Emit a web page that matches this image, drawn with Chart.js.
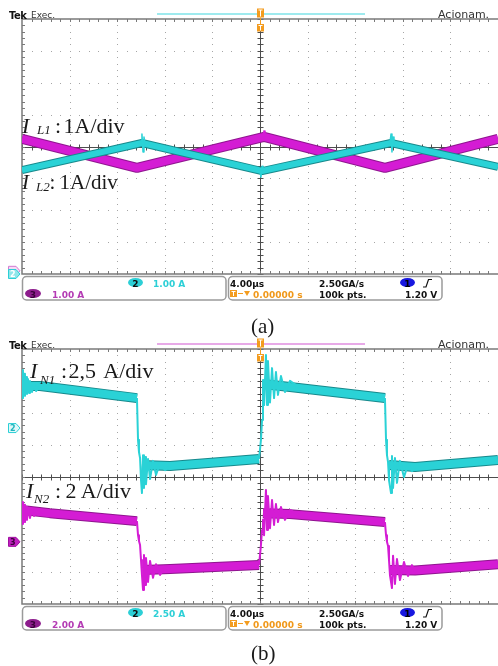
<!DOCTYPE html>
<html>
<head>
<meta charset="utf-8">
<title>Tek captures</title>
<script src="https://cdn.jsdelivr.net/npm/chart.js@4.4.1/dist/chart.umd.min.js"></script>
<style>
  html, body { margin: 0; padding: 0; background: #fff; }
  body { position: relative; width: 498px; height: 666px; overflow: hidden; }
  canvas { position: absolute; left: 0; }
  #scopeA { top: 0; }
  #scopeB { top: 330px; }
  .t { position: absolute; white-space: nowrap; line-height: 1; }
  .hd { font: bold 10px "DejaVu Sans"; letter-spacing: -0.5px; color: #111; }
  .hs { font: 9px "DejaVu Sans"; color: #333; }
  .st { font: bold 9px "DejaVu Sans"; color: #111; }
  .mk { font: bold 8px "DejaVu Sans"; }
  .sr { font-family: "Liberation Serif", "Times New Roman", serif; color: #1a1a1a; }
  .it { font-style: italic; }
</style>
</head>
<body>
<canvas id="scopeA" width="498" height="305"></canvas>
<canvas id="scopeB" width="498" height="305"></canvas>

<!-- (a) -->
<div class="t hd" style="left:9px;top:9.5px">Tek</div>
<div class="t hs" style="left:31px;top:9.9px">Exec.</div>
<div class="t hs" style="left:438px;top:8.2px;font-size:11px">Acionam.</div>

<div class="t sr it" style="left:22px;top:114.6px;font-size:22px">I</div>
<div class="t sr it" style="left:37px;top:123.1px;font-size:13px">L1</div>
<div class="t sr" style="left:55px;top:114.6px;font-size:22px">:</div>
<div class="t sr" style="left:63.5px;top:114.6px;font-size:22px">1A/div</div>

<div class="t sr it" style="left:22px;top:171.9px;font-size:21px">I</div>
<div class="t sr it" style="left:36px;top:180.1px;font-size:13px">L2</div>
<div class="t sr" style="left:49.5px;top:171.9px;font-size:21px">:</div>
<div class="t sr" style="left:59.5px;top:171.9px;font-size:21px">1A/div</div>

<div class="t mk" style="left:10px;top:270.2px;color:#fff">2</div>
<div class="t st" style="left:128px;top:279.4px;width:15px;text-align:center">2</div>
<div class="t st" style="left:153px;top:279.4px;color:#2ccfd6">1.00 A</div>
<div class="t st" style="left:25px;top:290.4px;width:16px;text-align:center;color:#3a003a">3</div>
<div class="t st" style="left:52px;top:290.4px;color:#b43cb4">1.00 A</div>
<div class="t st" style="left:230px;top:279.4px">4.00µs</div>
<div class="t st" style="left:319px;top:279.4px">2.50GA/s</div>
<div class="t st" style="left:400px;top:279.4px;width:15px;text-align:center;color:#000">1</div>
<div class="t st" style="left:253px;top:290.4px;color:#f0981a">0.00000 s</div>
<div class="t st" style="left:319px;top:290.4px">100k pts.</div>
<div class="t st" style="left:405px;top:290.4px">1.20 V</div>
<div class="t sr" style="left:251px;top:315.9px;font-size:21px">(a)</div>

<!-- (b) -->
<div class="t hd" style="left:9px;top:339.5px">Tek</div>
<div class="t hs" style="left:31px;top:339.9px">Exec.</div>
<div class="t hs" style="left:438px;top:338.2px;font-size:11px">Acionam.</div>

<div class="t sr it" style="left:30px;top:360.1px;font-size:22px">I</div>
<div class="t sr it" style="left:40px;top:372.6px;font-size:13px">N1</div>
<div class="t sr" style="left:61px;top:360.1px;font-size:22px">:</div>
<div class="t sr" style="left:68.5px;top:360.1px;font-size:22px;word-spacing:3px">2,5 A/div</div>

<div class="t sr it" style="left:26px;top:479.6px;font-size:22px">I</div>
<div class="t sr it" style="left:34px;top:492.1px;font-size:13px">N2</div>
<div class="t sr" style="left:55px;top:479.6px;font-size:22px">:</div>
<div class="t sr" style="left:65.5px;top:479.6px;font-size:22px">2 A/div</div>

<div class="t mk" style="left:10px;top:424.2px;color:#1fb5bd">2</div>
<div class="t mk" style="left:10px;top:538.2px;color:#3a003a">3</div>
<div class="t st" style="left:128px;top:609.4px;width:15px;text-align:center">2</div>
<div class="t st" style="left:153px;top:609.4px;color:#2ccfd6">2.50 A</div>
<div class="t st" style="left:25px;top:620.4px;width:16px;text-align:center;color:#3a003a">3</div>
<div class="t st" style="left:52px;top:620.4px;color:#b43cb4">2.00 A</div>
<div class="t st" style="left:230px;top:609.4px">4.00µs</div>
<div class="t st" style="left:319px;top:609.4px">2.50GA/s</div>
<div class="t st" style="left:400px;top:609.4px;width:15px;text-align:center;color:#000">1</div>
<div class="t st" style="left:253px;top:620.4px;color:#f0981a">0.00000 s</div>
<div class="t st" style="left:319px;top:620.4px">100k pts.</div>
<div class="t st" style="left:405px;top:620.4px">1.20 V</div>
<div class="t sr" style="left:251px;top:643.4px;font-size:21px">(b)</div>

<script>
// time axis: 4 µs/div, 10 divisions, trigger at 0
// vertical values in screen divisions from graticule centre

// (a) inductor currents, 1 A/div
const aIL1Time = [-20, -10.34, 0.34, 10.50, 20];
const aIL1Div  = [0.24, -0.67, 0.30, -0.67, 0.24];
const aIL1SpikeTime = [0.25, 0.34, 0.42];
const aIL1SpikeDiv  = [0.30, 0.49, 0.22];
const aIL2Time = [-20, -9.92, 0.17, 11.01, 20];
const aIL2Div  = [-0.74, 0.11, -0.77, 0.11, -0.64];
const aIL2SpikeTime = [-10.00, -9.92, -9.83, -9.75, -9.66, -9.66,
                       0.00, 0.08, 0.17, 0.25, 0.25,
                       10.92, 11.01, 11.09, 11.18, 11.26];
const aIL2SpikeDiv  = [0.11, 0.39, -0.17, 0.30, 0.05, null,
                       -0.74, -0.96, -0.62, -0.80, null,
                       0.11, 0.39, -0.17, 0.30, 0.05];

// (b) IN1, 2.5 A/div
const bIN1Time = [-20, -18.49, -10.34, -10.2, -9.92, -7.56, -0.08, 0.1, 0.25, 2.52, 10.50, 10.6, 10.84, 13.03, 20];
const bIN1Div  = [2.84, 2.84, 2.46, null, 0.36, 0.33, 0.55, null, 2.90, 2.81, 2.46, null, 0.36, 0.30, 0.52];
const bIN1RingTime = [
  -20, -19.92, -19.83, -19.75, -19.66, -19.58, -19.50, -19.41, -19.33, -19.16, -18.99, -18.82, -18.49, -18.49,
  -10.34, -10.25, -10.17, -10.08, -10.00, -9.92, -9.83, -9.75, -9.66, -9.58, -9.41, -9.24, -8.99, -8.74, -8.40, -7.98, -7.56, -7.56,
  -0.08, 0.08, 0.17, 0.25, 0.34, 0.50, 0.59, 0.67, 0.84, 1.01, 1.18, 1.34, 1.51, 1.76, 2.10, 2.52, 3.36, 3.36,
  10.50, 10.59, 10.67, 10.76, 10.84, 11.01, 11.09, 11.18, 11.34, 11.51, 11.76, 12.10, 12.44, 12.77, 13.03];
const bIN1RingDiv = [
  3.34, 2.46, 3.22, 2.53, 3.12, 2.59, 3.06, 2.62, 3.00, 2.65, 2.93, 2.68, 2.84, null,
  2.46, 1.15, 0.77, 0.58, -0.11, -0.52, 0.67, -0.36, 0.61, -0.24, 0.55, -0.08, 0.49, 0.05, 0.42, 0.20, 0.33, null,
  0.55, 1.15, 1.77, 3.03, 2.24, 3.81, 2.24, 3.62, 2.32, 3.40, 2.46, 3.28, 2.56, 3.15, 2.65, 3.00, 2.78, null,
  2.46, 1.15, 0.67, 0.45, -0.11, -0.52, 0.64, -0.36, 0.58, -0.20, 0.49, -0.02, 0.39, 0.17, 0.30];

// (b) IN2, 2 A/div
const bIN2Time = [-20, -17.65, -10.34, -10.2, -9.83, -7.56, -0.08, 0.1, 0.25, 2.52, 10.50, 10.6, 10.92, 13.03, 20];
const bIN2Div  = [-1.05, -1.15, -1.40, null, -2.93, -2.90, -2.78, null, -1.15, -1.18, -1.43, null, -2.93, -2.95, -2.75];
const bIN2RingTime = [
  -20, -19.92, -19.83, -19.75, -19.66, -19.58, -19.50, -19.33, -19.16, -18.99, -18.74, -18.32, -18.32,
  -10.34, -10.25, -10.17, -10.08, -10.00, -9.92, -9.83, -9.75, -9.66, -9.58, -9.41, -9.24, -8.99, -8.74, -8.40, -7.98, -7.56, -7.56,
  -0.08, 0.08, 0.17, 0.25, 0.34, 0.50, 0.59, 0.67, 0.84, 1.01, 1.18, 1.34, 1.51, 1.76, 2.10, 2.52, 3.36, 3.36,
  10.50, 10.59, 10.67, 10.76, 10.84, 10.92, 11.09, 11.18, 11.34, 11.51, 11.76, 12.10, 12.44, 12.77, 13.03, 13.45];
const bIN2RingDiv = [
  -0.80, -1.49, -0.89, -1.43, -0.96, -1.36, -0.99, -1.30, -1.04, -1.24, -1.08, -1.18, null,
  -1.40, -1.84, -2.02, -2.15, -2.62, -3.09, -3.56, -2.46, -3.40, -2.56, -3.31, -2.65, -3.18, -2.75, -3.09, -2.84, -2.93, null,
  -2.78, -2.15, -1.68, -1.36, -1.84, -0.42, -1.68, -0.61, -1.62, -0.74, -1.52, -0.86, -1.43, -0.96, -1.36, -1.05, -1.24, null,
  -1.43, -1.84, -2.05, -2.18, -2.62, -3.09, -3.50, -2.49, -3.37, -2.59, -3.25, -2.68, -3.12, -2.78, -3.00, -2.90];

const CYAN = '#2ad2d6', CYAN_EDGE = '#17898c';
const MAG = '#d41cd4', MAG_EDGE = '#8f158f';
const ORANGE = '#f39c1f';

function trace(xs, ys, color, width, order) {
  return {
    data: xs.map((t, i) => ({ x: t, y: ys[i] })),
    borderColor: color, borderWidth: width, order: order,
    pointRadius: 0, fill: false, tension: 0, clip: 0,
    borderJoinStyle: 'round', spanGaps: false
  };
}

const graticule = {
  id: 'graticule',
  beforeDatasetsDraw(chart) {
    const { ctx, chartArea: a, scales: { x, y } } = chart;
    const px = v => Math.round(x.getPixelForValue(v)) + 0.5;
    const py = v => Math.round(y.getPixelForValue(v)) + 0.5;
    ctx.save();
    // dotted division lines
    ctx.fillStyle = '#a6a6a6';
    for (let i = 1; i < 10; i++) {
      if (i === 5) continue;
      const gx = Math.round(x.getPixelForValue(-20 + i * 4));
      for (let k = 0; k <= 40; k++) ctx.fillRect(gx, Math.round(y.getPixelForValue(-4 + k * 0.2)), 1, 1);
    }
    for (let j = 1; j < 8; j++) {
      if (j === 4) continue;
      const gy = Math.round(y.getPixelForValue(-4 + j));
      for (let k = 0; k <= 50; k++) ctx.fillRect(Math.round(x.getPixelForValue(-20 + k * 0.8)), gy, 1, 1);
    }
    // centre cross
    const cx = px(0), cy = py(0);
    ctx.strokeStyle = '#4d4d4d';
    ctx.lineWidth = 1;
    ctx.beginPath();
    ctx.moveTo(a.left, cy); ctx.lineTo(a.right, cy);
    ctx.moveTo(cx, a.top); ctx.lineTo(cx, a.bottom);
    for (let k = 0; k <= 50; k++) {
      const t = px(-20 + k * 0.8);
      ctx.moveTo(t, cy - 3); ctx.lineTo(t, cy + 3);
    }
    for (let k = 0; k <= 40; k++) {
      const v = py(-4 + k * 0.2);
      ctx.moveTo(cx - 3, v); ctx.lineTo(cx + 3, v);
    }
    ctx.stroke();
    // frame with ticks
    ctx.strokeStyle = '#7a7a7a';
    ctx.lineWidth = 1.5;
    ctx.beginPath();
    ctx.moveTo(a.right, a.top); ctx.lineTo(a.left, a.top);
    ctx.lineTo(a.left, a.bottom); ctx.lineTo(a.right, a.bottom);
    ctx.stroke();
    ctx.lineWidth = 1;
    ctx.beginPath();
    for (let k = 1; k < 50; k++) {
      const t = px(-20 + k * 0.8);
      ctx.moveTo(t, a.top); ctx.lineTo(t, a.top + 3);
      ctx.moveTo(t, a.bottom); ctx.lineTo(t, a.bottom - 3);
    }
    for (let k = 1; k < 40; k++) {
      const v = py(-4 + k * 0.2);
      ctx.moveTo(a.left, v); ctx.lineTo(a.left + 3, v);
    }
    ctx.stroke();
    ctx.restore();
  }
};

function rrect(ctx, x, y, w, h, r) {
  ctx.beginPath();
  ctx.moveTo(x + r, y);
  ctx.arcTo(x + w, y, x + w, y + h, r);
  ctx.arcTo(x + w, y + h, x, y + h, r);
  ctx.arcTo(x, y + h, x, y, r);
  ctx.arcTo(x, y, x + w, y, r);
  ctx.closePath();
}

function blob(ctx, cx, cy, rx, ry, color) {
  ctx.beginPath();
  ctx.ellipse(cx, cy, rx, ry, 0, 0, Math.PI * 2);
  ctx.fillStyle = color;
  ctx.fill();
}

function tFlag(ctx, x, y, w, h) {
  ctx.fillStyle = ORANGE;
  ctx.fillRect(x, y, w, h);
  ctx.strokeStyle = '#fff';
  ctx.lineWidth = 1;
  ctx.beginPath();
  ctx.moveTo(x + 1.5, y + 1.5); ctx.lineTo(x + w - 1.5, y + 1.5);
  ctx.moveTo(x + w / 2, y + 1.5); ctx.lineTo(x + w / 2, y + h - 1);
  ctx.stroke();
}

function chMarker(ctx, py, fill, stroke) {
  ctx.beginPath();
  ctx.moveTo(8.5, py - 4.5); ctx.lineTo(16, py - 4.5); ctx.lineTo(20, py);
  ctx.lineTo(16, py + 4.5); ctx.lineTo(8.5, py + 4.5); ctx.closePath();
  ctx.fillStyle = fill; ctx.fill();
  ctx.strokeStyle = stroke; ctx.lineWidth = 1; ctx.stroke();
}

function overlay(opt) {
  return {
    id: 'overlay',
    afterDraw(chart) {
      const ctx = chart.ctx, y = chart.scales.y;
      ctx.save();
      // record view bar
      ctx.strokeStyle = opt.recColor;
      ctx.lineWidth = 1.5;
      ctx.beginPath(); ctx.moveTo(157, 14); ctx.lineTo(365, 14); ctx.stroke();
      // trigger position flags
      tFlag(ctx, 257, 8.5, 7, 9);
      ctx.strokeStyle = ORANGE;
      ctx.beginPath(); ctx.moveTo(260.5, 17.5); ctx.lineTo(260.5, 24); ctx.stroke();
      tFlag(ctx, 257, 24, 7, 7.5);
      // channel ground markers
      opt.markers.forEach(m => chMarker(ctx, y.getPixelForValue(m.level), m.fill, m.stroke));
      // status boxes
      ctx.strokeStyle = '#9a9a9a';
      ctx.lineWidth = 1.5;
      rrect(ctx, 22.5, 276.5, 203.5, 23.5, 4); ctx.fillStyle = '#fff'; ctx.fill(); ctx.stroke();
      rrect(ctx, 228.5, 276.5, 213.5, 23.5, 4); ctx.fill(); ctx.stroke();
      blob(ctx, 135.5, 282.5, 7.5, 4.5, '#2ccfd6');
      blob(ctx, 33, 293.5, 8, 4.5, '#8d1d8d');
      blob(ctx, 407.5, 282.5, 7.5, 4.5, '#1717e0');
      // trigger slope glyph
      ctx.strokeStyle = '#111';
      ctx.lineWidth = 1.2;
      ctx.beginPath();
      ctx.moveTo(423, 287); ctx.lineTo(426, 287); ctx.lineTo(428.5, 279.5); ctx.lineTo(432, 279.5);
      ctx.stroke();
      // trigger offset icon
      tFlag(ctx, 230, 290, 7, 7);
      ctx.strokeStyle = ORANGE;
      ctx.lineWidth = 1;
      ctx.beginPath(); ctx.moveTo(238, 293.5); ctx.lineTo(243, 293.5); ctx.stroke();
      ctx.fillStyle = ORANGE;
      ctx.beginPath(); ctx.moveTo(244, 291); ctx.lineTo(250, 291); ctx.lineTo(247, 296); ctx.closePath(); ctx.fill();
      ctx.restore();
    }
  };
}

function scope(id, sets, opt) {
  return new Chart(document.getElementById(id), {
    type: 'line',
    data: { datasets: sets },
    options: {
      responsive: false,
      animation: false,
      devicePixelRatio: 1,
      layout: { padding: { left: 22, top: 19, right: 0, bottom: 31 } },
      scales: {
        x: { type: 'linear', min: -20, max: 20, display: false },
        y: { type: 'linear', min: -4, max: 4, display: false }
      },
      plugins: { legend: { display: false }, tooltip: { enabled: false } }
    },
    plugins: [graticule, overlay(opt)]
  });
}

scope('scopeA', [
  trace(aIL1Time, aIL1Div, MAG_EDGE, 10, 6),
  trace(aIL1Time, aIL1Div, MAG, 8, 5),
  trace(aIL1SpikeTime, aIL1SpikeDiv, MAG, 1.5, 4),
  trace(aIL2Time, aIL2Div, CYAN_EDGE, 8, 3),
  trace(aIL2Time, aIL2Div, CYAN, 6, 2),
  trace(aIL2SpikeTime, aIL2SpikeDiv, CYAN, 1.5, 1)
], {
  recColor: '#7ee3e8',
  markers: [
    { level: -3.9, fill: '#f6dcf6', stroke: '#d27ad2' },
    { level: -4.0, fill: '#8fe6ea', stroke: '#2ccfd6' }
  ]
});

scope('scopeB', [
  trace(bIN2Time, bIN2Div, MAG_EDGE, 10, 6),
  trace(bIN2Time, bIN2Div, MAG, 8, 5),
  trace(bIN2RingTime, bIN2RingDiv, MAG, 2, 4),
  trace(bIN1Time, bIN1Div, CYAN_EDGE, 10, 3),
  trace(bIN1Time, bIN1Div, CYAN, 8, 2),
  trace(bIN1RingTime, bIN1RingDiv, CYAN, 2, 1)
], {
  recColor: '#e08ee0',
  markers: [
    { level: 1.52, fill: '#e0f8f9', stroke: '#2ccfd6' },
    { level: -2.05, fill: '#c020c0', stroke: '#a010a0' }
  ]
});
</script>
</body>
</html>
